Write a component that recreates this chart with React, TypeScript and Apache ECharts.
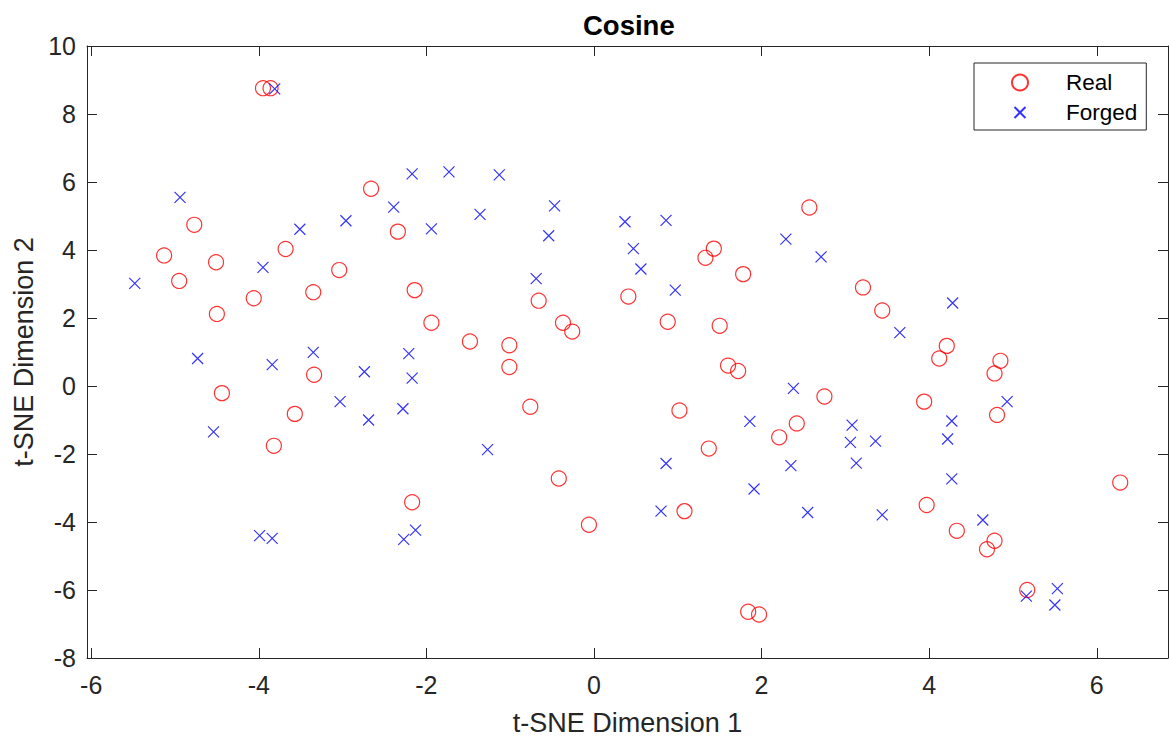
import React, { useEffect, useRef } from "react";
import * as echarts from "echarts";

const titleText = "Cosine";
const xLabel = "t-SNE Dimension 1";
const yLabel = "t-SNE Dimension 2";
const seriesNames = ["Real", "Forged"];
const xTicks = [-6, -4, -2, 0, 2, 4, 6];

const realX = [
  -3.95, -3.86, -4.77, -2.66, -2.34, -3.68, -5.13, -4.95, -4.51, -3.04,
  -3.35, -4.06, -4.5, -3.34, -4.44, -3.57, -3.82, -2.14, -1.94, -1.48,
  -1.01, -1.01, -0.66, -0.37, -0.26, -0.76, -0.42, -2.17, -0.06, 0.41,
  0.88, 1.33, 1.43, 1.78, 1.5, 1.6, 1.72, 1.02, 1.37, 1.08,
  1.84, 1.97, 2.57, 3.21, 3.44, 4.21, 4.12, 4.85, 4.78, 2.75,
  3.94, 4.81, 2.42, 2.21, 6.28, 3.97, 4.33, 4.78, 4.69, 5.17,
];
const realY = [
  8.76, 8.76, 4.74, 5.8, 4.54, 4.03, 3.84, 3.09, 3.64, 3.41,
  2.76, 2.58, 2.12, 0.33, -0.21, -0.82, -1.76, 2.82, 1.86, 1.31,
  1.2, 0.56, 2.51, 1.86, 1.6, -0.61, -2.72, -3.42, -4.08, 2.63,
  1.89, 3.77, 4.04, 3.29, 1.77, 0.6, 0.44, -0.72, -1.84, -3.68,
  -6.64, -6.72, 5.25, 2.9, 2.22, 1.18, 0.81, 0.74, 0.37, -0.31,
  -0.46, -0.85, -1.1, -1.51, -2.84, -3.5, -4.26, -4.55, -4.8, -6.0,
];
const forgedX = [
  -3.81, -4.94, -3.51, -2.96, -2.39, -5.48, -3.95, -4.73, -3.84, -3.35,
  -2.74, -3.03, -2.69, -4.54, -2.28, -2.21, -2.17, -2.17, -1.73, -1.13,
  -1.36, -1.94, -0.47, -0.54, -0.69, -1.27, -2.13, -2.27, -3.99, -3.84,
  0.37, 0.86, 0.47, 0.56, 0.97, 0.86, 0.8, 1.91, 1.86, 2.29,
  2.71, 4.28, 3.65, 2.38, 4.93, 4.27, 3.08, 3.06, 3.36, 4.22,
  2.35, 3.13, 4.27, 2.55, 3.44, 4.64, 5.16, 5.53, 5.5,
];
const forgedY = [
  8.74, 5.55, 4.61, 4.86, 5.26, 3.02, 3.49, 0.81, 0.63, 0.99,
  0.42, -0.46, -1.0, -1.35, -0.67, 0.95, 0.23, 6.24, 6.3, 6.21,
  5.05, 4.62, 5.3, 4.42, 3.16, -1.87, -4.24, -4.51, -4.4, -4.48,
  4.83, 4.87, 4.04, 3.44, 2.82, -2.28, -3.68, -3.03, -1.04, 4.32,
  3.8, 2.44, 1.57, -0.07, -0.46, -1.03, -1.15, -1.66, -1.62, -1.56,
  -2.34, -2.27, -2.73, -3.72, -3.79, -3.94, -6.18, -5.96, -6.44,
];

const FONT = "'Liberation Sans', Arial, Helvetica, sans-serif";
const AX = "#262626";

export default function App() {
  const ref = useRef<HTMLDivElement>(null);
  useEffect(() => {
    if (!ref.current) return;
    const chart = echarts.init(ref.current, undefined, { renderer: "svg" });
    const realData = realX.map((x, i) => [x, realY[i]]);
    const forgedData = forgedX.map((x, i) => [x, forgedY[i]]);
    const xMin = -6.05;
    const xMax = 6.85;
    const axisLine = { show: true, onZero: false, lineStyle: { color: AX, width: 1 } };
    chart.setOption({
      animation: false,
      backgroundColor: "#fff",
      title: {
        text: titleText,
        left: 578,
        top: 6,
        textStyle: { fontFamily: FONT, fontSize: 27.5, fontWeight: "bold", color: "#000" },
      },
      legend: {
        orient: "vertical",
        left: 974,
        top: 63,
        padding: [8, 9, 6, 37],
        itemGap: 7,
        itemWidth: 82,
        itemHeight: 16,
        borderColor: AX,
        borderWidth: 1,
        backgroundColor: "#fff",
        data: [
          { name: seriesNames[0] },
          { name: seriesNames[1], icon: "path://M0,0M16,16M2.5,2.5L13.5,13.5M13.5,2.5L2.5,13.5" },
        ],
        textStyle: { fontFamily: FONT, fontSize: 22.5, color: "#000" },
      },
      grid: {
        left: 87,
        top: 46,
        width: 1081,
        height: 612,
        containLabel: false,
        outerBoundsMode: "none",
      },
      xAxis: [
        {
          type: "value",
          min: xMin,
          max: xMax,
          position: "bottom",
          axisLine,
          splitLine: { show: false },
          axisTick: { show: true, inside: true, length: 10, customValues: xTicks, lineStyle: { color: AX } },
          axisLabel: { customValues: xTicks, fontFamily: FONT, fontSize: 25, color: AX, margin: 14 },
          name: xLabel,
          nameLocation: "middle",
          nameGap: 51,
          nameTextStyle: { fontFamily: FONT, fontSize: 27, color: AX },
        },
        {
          type: "value",
          min: xMin,
          max: xMax,
          position: "top",
          axisLine,
          splitLine: { show: false },
          axisTick: { show: true, inside: true, length: 10, customValues: xTicks, lineStyle: { color: AX } },
          axisLabel: { show: false },
        },
      ],
      yAxis: [
        {
          type: "value",
          min: -8,
          max: 10,
          interval: 2,
          position: "left",
          axisLine,
          splitLine: { show: false },
          axisTick: { show: true, inside: true, length: 10, lineStyle: { color: AX } },
          axisLabel: { fontFamily: FONT, fontSize: 25, color: AX, margin: 11 },
          name: yLabel,
          nameLocation: "middle",
          nameGap: 50,
          nameTextStyle: { fontFamily: FONT, fontSize: 27, color: AX },
        },
        {
          type: "value",
          min: -8,
          max: 10,
          interval: 2,
          position: "right",
          axisLine,
          splitLine: { show: false },
          axisTick: { show: true, inside: true, length: 10, lineStyle: { color: AX } },
          axisLabel: { show: false },
        },
      ],
      series: [
        {
          name: seriesNames[0],
          type: "scatter",
          data: realData,
          symbol: "circle",
          symbolSize: 15,
          itemStyle: { color: "rgba(0,0,0,0)", borderColor: "#ff0000", borderWidth: 1.2 },
          emphasis: { disabled: true },
        },
        {
          name: seriesNames[1],
          type: "scatter",
          data: forgedData,
          symbol: "path://M0,0L10,10M10,0L0,10",
          symbolSize: 11,
          itemStyle: { color: "rgba(0,0,0,0)", borderColor: "#0000ff", borderWidth: 1.2 },
          emphasis: { disabled: true },
        },
      ],
    });
    return () => chart.dispose();
  }, []);
  return (
    <div
      ref={ref}
      style={{ position: "absolute", left: 0, top: 0, width: 1169, height: 738 }}
    />
  );
}
